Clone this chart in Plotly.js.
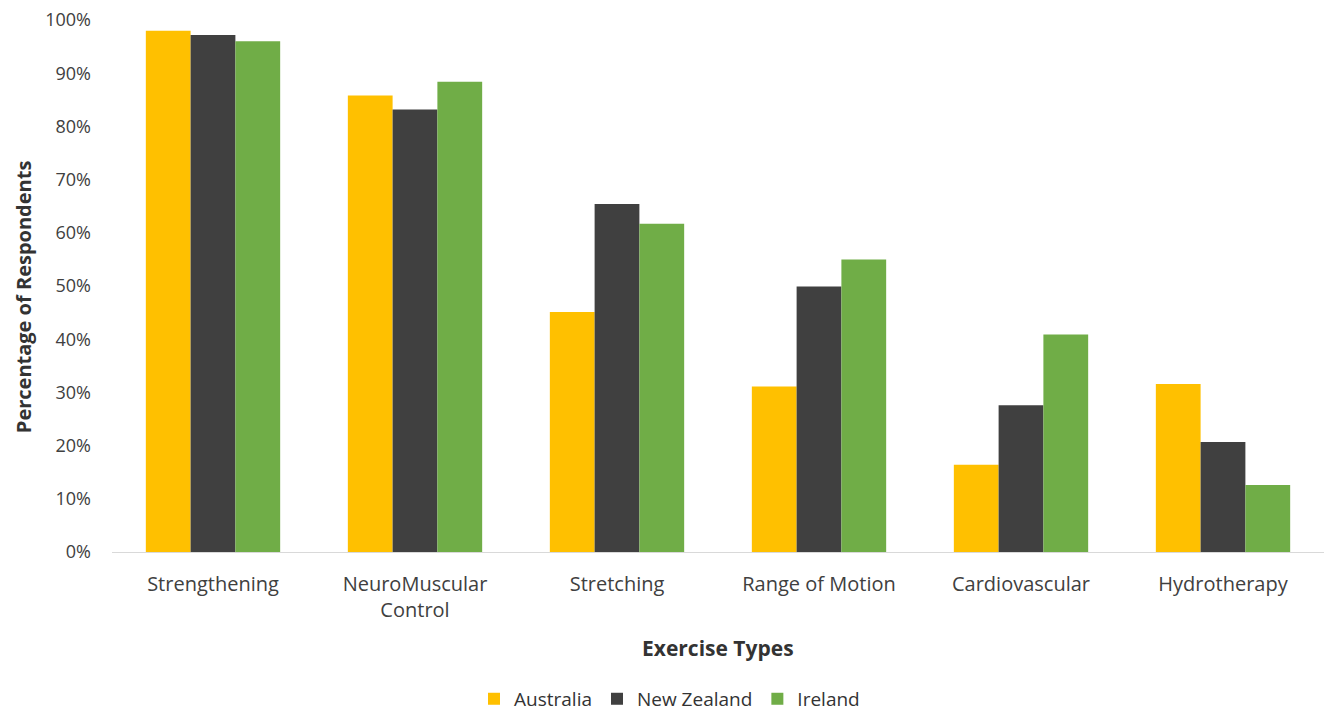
<!DOCTYPE html>
<html>
<head>
<meta charset="utf-8">
<script src="https://cdn.plot.ly/plotly-3.0.1.min.js"></script>
<style>html,body{margin:0;padding:0;background:#fff;}#chart{width:1324px;height:711px;}</style>
</head>
<body>
<div id="chart"></div>
<script>
const categories = ["Strengthening", "NeuroMuscular<br>Control", "Stretching", "Range of Motion", "Cardiovascular", "Hydrotherapy"];
const australia = [0.98, 0.858, 0.451, 0.311, 0.164, 0.316];
const newZealand = [0.972, 0.832, 0.654, 0.499, 0.276, 0.207];
const ireland = [0.96, 0.884, 0.617, 0.55, 0.409, 0.126];
const yTickVals = [0, 0.1, 0.2, 0.3, 0.4, 0.5, 0.6, 0.7, 0.8, 0.9, 1.0];
const yTickText = ["0%", "10%", "20%", "30%", "40%", "50%", "60%", "70%", "80%", "90%", "100%"];

const FONT = "Open Sans, Lato, sans-serif";
const traces = [
  {type: "bar", name: "Australia", x: categories, y: australia, marker: {color: "#FFC000"}},
  {type: "bar", name: "New Zealand", x: categories, y: newZealand, marker: {color: "#404040"}},
  {type: "bar", name: "Ireland", x: categories, y: ireland, marker: {color: "#70AD47"}}
];
const layout = {
  width: 1324, height: 711,
  margin: {l: 112, r: 0, t: 20, b: 159, autoexpand: false},
  paper_bgcolor: "#fff", plot_bgcolor: "#fff",
  font: {family: FONT, size: 18, color: "#404040"},
  barmode: "group", bargap: 0.335, bargroupgap: 0,
  showlegend: true,
  legend: {orientation: "h", xref: "paper", x: 0.46, xanchor: "center", yref: "container", y: 0.017, yanchor: "middle",
           font: {family: FONT, size: 19, color: "#333333"}, traceorder: "normal", itemwidth: 30},
  xaxis: {type: "category", showgrid: false, zeroline: false, showline: true, linecolor: "#D9D9D9", linewidth: 1,
          ticks: "", ticklabelstandoff: 14, tickfont: {family: FONT, size: 20, color: "#404040"}, automargin: false},
  yaxis: {range: [0, 1.0], tickvals: yTickVals, ticktext: yTickText, showgrid: false, zeroline: false, automargin: false,
          showline: false, ticks: "", ticklabelstandoff: 20, tickfont: {family: FONT, size: 18, color: "#404040"}},
  annotations: [
    {text: "<b>Exercise Types</b>", xref: "paper", yref: "paper", x: 0.5, y: -0.18, xanchor: "center", yanchor: "middle",
     showarrow: false, font: {family: FONT, size: 21, color: "#333333"}},
    {text: "<b>Percentage of Respondents</b>", xref: "paper", yref: "paper", x: -0.073, y: 0.48, xanchor: "center", yanchor: "middle",
     textangle: -90, showarrow: false, font: {family: FONT, size: 20, color: "#333333"}}
  ]
};
Plotly.newPlot("chart", traces, layout, {staticPlot: true, displayModeBar: false});
</script>
</body>
</html>
